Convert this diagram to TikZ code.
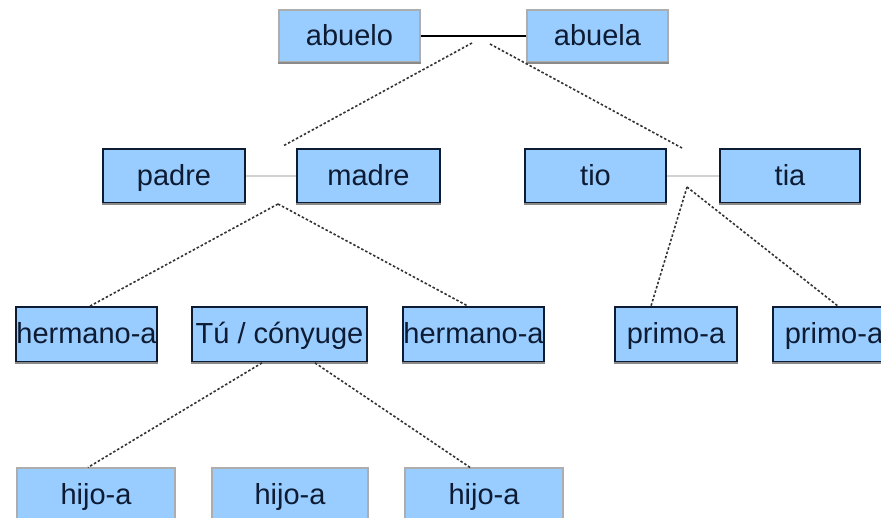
\documentclass[tikz,border=0pt]{standalone}
\usepackage{fontspec}
\setmainfont{Liberation Sans}
\usetikzlibrary{calc}
\definecolor{celeste}{HTML}{99CCFF}
\definecolor{marino}{HTML}{0D1B33}
\definecolor{gris}{HTML}{8A8A8A}
\definecolor{grisclaro}{HTML}{D2D2D2}
\tikzset{
  persona/.style={fill=celeste, text=marino, inner sep=0pt, minimum height=54,
    text height=22, text depth=4, font=\fontsize{29}{32}\selectfont},
  marco/.style={persona, draw=marino, line width=1.8pt},
  suave/.style={persona, draw=gris!70, line width=1.2pt},
  pareja/.style={line width=1.5pt, grisclaro},
  rama/.style={line width=1.6pt, black!80, dash pattern=on 2.5pt off 2pt}
}

\begin{document}
\begin{tikzpicture}[x=1pt, y=-1pt]
    \useasboundingbox (0,0) rectangle (881,517);

    \node[suave, minimum width=141, minimum height=52] (abuelo) at (349.5,36) {abuelo};
    \node[suave, minimum width=141, minimum height=52] (abuela) at (597.5,36) {abuela};

    \node[marco, minimum width=142] (padre) at (174,176) {padre};
    \node[marco, minimum width=143] (madre) at (368.5,176) {madre};
    \node[marco, minimum width=141] (tio) at (595.5,176) {tio};
    \node[marco, minimum width=140] (tia) at (790,176) {tia};

    \node[marco, minimum width=141, minimum height=55] (herm1) at (86.5,334.5) {hermano-a};
    \node[marco, minimum width=175, minimum height=55] (tu) at (279.5,334.5) {Tú / cónyuge};
    \node[marco, minimum width=139, minimum height=55] (herm2) at (473.5,334.5) {hermano-a};
    \node[marco, minimum width=122, minimum height=55] (prim1) at (676,334.5) {primo-a};
    \node[marco, minimum width=122, minimum height=55] (prim2) at (834,334.5) {primo-a};

    \node[suave, minimum width=158, minimum height=55] (hijo1) at (96,495.5) {hijo-a};
    \node[suave, minimum width=156, minimum height=55] (hijo2) at (290,495.5) {hijo-a};
    \node[suave, minimum width=158, minimum height=55] (hijo3) at (484,495.5) {hijo-a};

    \foreach \n in {abuelo,abuela,padre,madre,tio,tia,herm1,tu,herm2,prim1,prim2}
        \draw[gris, line width=1.8pt] (\n.south west) -- (\n.south east);

    \coordinate (ab1) at (472,43);
    \coordinate (ab2) at (490,44);
    \coordinate (pmT) at (283,146);
    \coordinate (tiT) at (682,148);
    \coordinate (pmB) at (278,204);
    \coordinate (tiB) at (687,187);

    \draw[line width=2pt] (abuelo) to (abuela);
    \draw[pareja] (padre) to (madre);
    \draw[pareja] (tio) to (tia);

    \draw[rama] (ab1) to (pmT);
    \draw[rama] (ab2) to (tiT);
    \draw[rama] (pmB) to ($(herm1.north)+(3.5,0)$);
    \draw[rama] (pmB) to ($(herm2.north)+(-5.5,0)$);
    \draw[rama] (tiB) to ($(prim1.north)+(-25,0)$);
    \draw[rama] (tiB) to ($(prim2.north)+(4,0)$);
    \draw[rama] ($(tu.south)+(-17.5,0)$) to ($(hijo1.north)+(-8,0)$);
    \draw[rama] ($(tu.south)+(35.5,0)$) to ($(hijo3.north)+(-14,0)$);
\end{tikzpicture}
\end{document}
